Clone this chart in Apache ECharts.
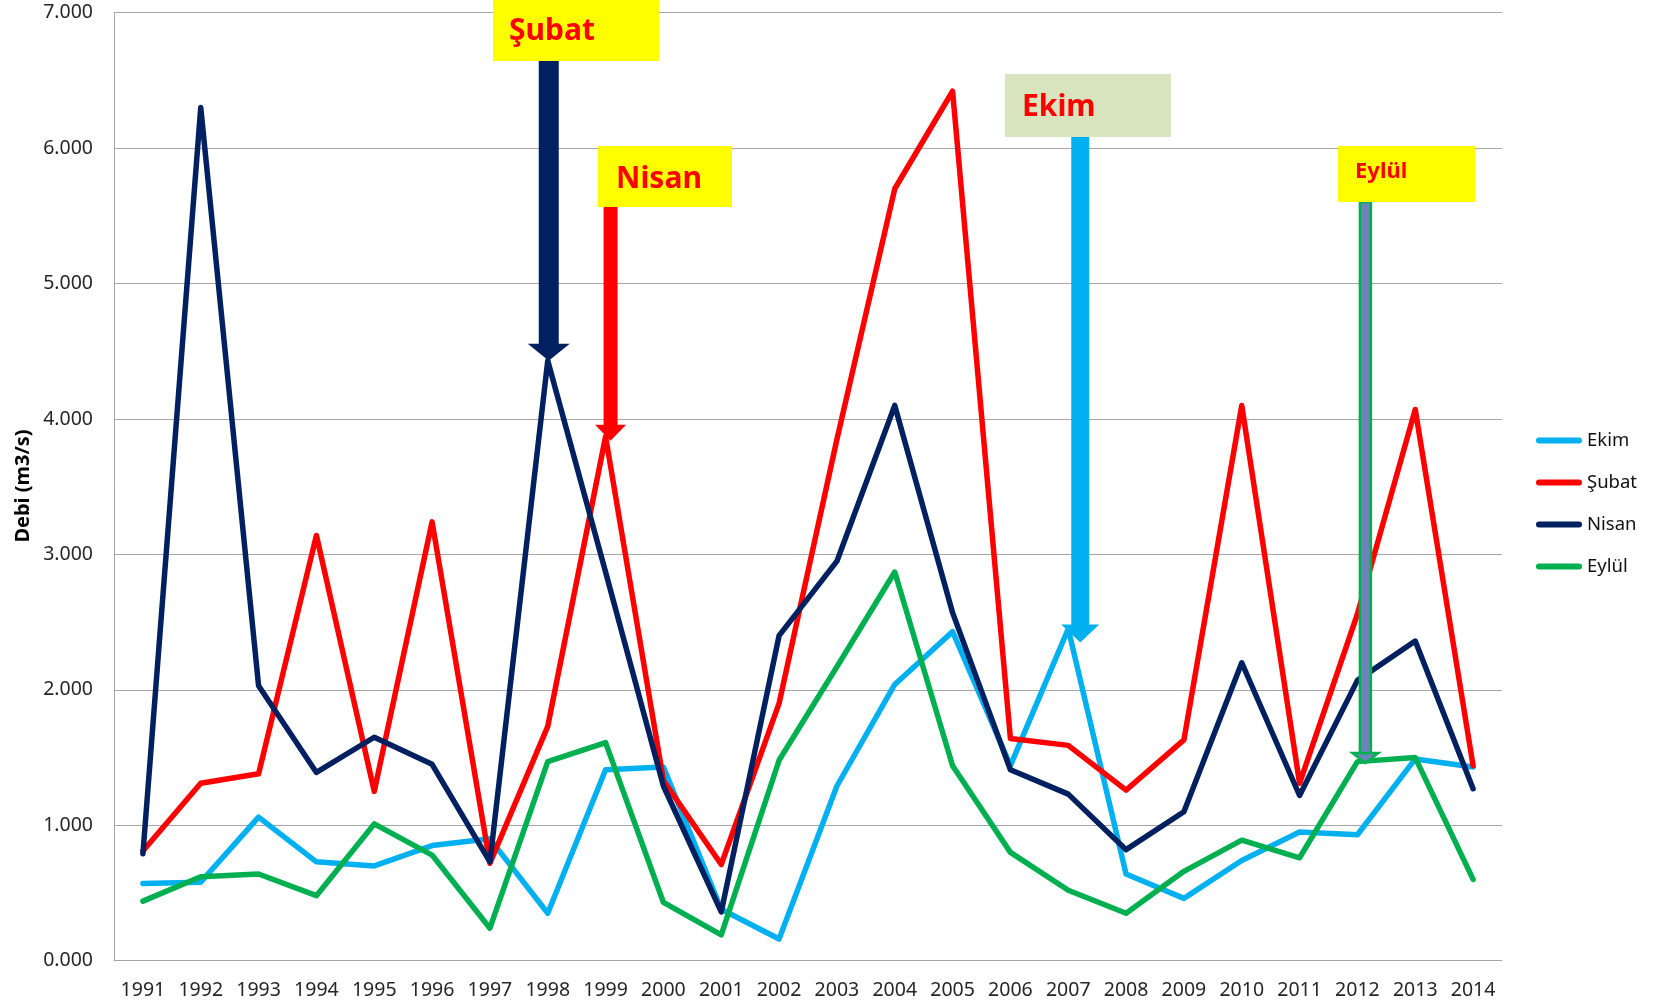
<!DOCTYPE html>
<html><head><meta charset="utf-8">
<script src="https://cdn.jsdelivr.net/npm/echarts@6/dist/echarts.min.js"></script>
<style>html,body{margin:0;padding:0;background:#fff}#c{width:1657px;height:1007px}</style>
</head><body><div id="c"></div>
<script>
// ---- data ----
const years = ['1991','1992','1993','1994','1995','1996','1997','1998','1999','2000','2001','2002','2003','2004','2005','2006','2007','2008','2009','2010','2011','2012','2013','2014'];
const ekim  = [570, 580, 1060, 730, 700, 850, 900, 350, 1410, 1430, 380, 160, 1290, 2040, 2430, 1440, 2450, 640, 460, 740, 950, 930, 1490, 1430];
const subat = [810, 1310, 1380, 3140, 1250, 3240, 720, 1730, 3870, 1330, 710, 1900, 3850, 5700, 6420, 1640, 1590, 1260, 1630, 4100, 1310, 2560, 4070, 1440];
const nisan = [790, 6300, 2030, 1390, 1650, 1450, 730, 4430, 2870, 1290, 360, 2400, 2950, 4100, 2570, 1410, 1230, 820, 1100, 2200, 1220, 2070, 2360, 1270];
const eylul = [440, 620, 640, 480, 1010, 780, 240, 1470, 1610, 430, 190, 1480, 2170, 2870, 1440, 800, 520, 350, 660, 890, 760, 1470, 1500, 600];
const seriesNames = ['Ekim', 'Şubat', 'Nisan', 'Eylül'];
const yTickLabels = ['0.000','1.000','2.000','3.000','4.000','5.000','6.000','7.000'];
const yAxisTitle = 'Debi (m3/s)';
const calloutTexts = ['Şubat', 'Nisan', 'Ekim', 'Eylül'];
const calloutYears = ['1998', '1999', '2007', '2012'];
const calloutTipValues = [4430, 3840, 2350, 1460];

// ---- styles / layout ----
const colors = ['#00B0F0', '#FF0000', '#002060', '#00B050'];
const FONT = 'Noto Sans';
const calloutLayout = [
  {box:[493,0,166,61],   fill:'#FFFF00', tx:509,  ty:31,  fs:30, arrow:'#002060', shaftW:20, headW:42, headH:17, dx:1},
  {box:[598,146,134,61], fill:'#FFFF00', tx:616,  ty:179, fs:30, arrow:'#FF0000', shaftW:14, headW:31, headH:16, dx:5},
  {box:[1005,74,166,63], fill:'#D7E4BD', tx:1022, ty:107, fs:30, arrow:'#00B0F0', shaftW:18, headW:38, headH:18, dx:12},
  {box:[1338,146,137,56],fill:'#FFFF00', tx:1355, ty:172, fs:22, arrow:'#6A86B8', stroke:'#00B050', shaftW:11, headW:26, headH:10, dx:8}
];

const chart = echarts.init(document.getElementById('c'), null, {renderer:'canvas'});
const seriesData = [ekim, subat, nisan, eylul];

chart.setOption({
  animation: false,
  backgroundColor: '#fff',
  textStyle: {fontFamily: FONT},
  grid: {left:114, right:155, top:12.7, bottom:46.3, containLabel:false},
  legend: {
    orient:'vertical', left:1531, top:426, itemWidth:46, itemHeight:6, itemGap:23,
    icon:'path://M3,0 L43,0 A3,3 0 0 1 43,6 L3,6 A3,3 0 0 1 3,0 Z',
    textStyle:{fontSize:18.5, color:'#111', fontFamily:FONT},
    data: seriesNames
  },
  xAxis: {
    type:'category', data: years, boundaryGap:true,
    axisLine:{lineStyle:{color:'#A6A6A6', width:1}},
    axisTick:{show:false},
    axisLabel:{fontSize:19.5, color:'#262626', margin:20, fontFamily:FONT, interval:0}
  },
  yAxis: {
    type:'value', min:0, max:7000, interval:1000,
    axisLine:{show:true, lineStyle:{color:'#A6A6A6', width:1}},
    axisTick:{show:false},
    splitLine:{lineStyle:{color:'#A6A6A6', width:1}},
    axisLabel:{fontSize:19.5, color:'#262626', margin:21, fontFamily:FONT,
      formatter: v => yTickLabels[Math.round(v/1000)]}
  },
  series: seriesNames.map((n, i) => ({
    name:n, type:'line', data: seriesData[i], symbol:'none', showSymbol:false,
    color: colors[i],
    lineStyle:{width:5.5, color:colors[i], cap:'round', join:'round'}
  }))
});

// ---- annotations positioned from data via the chart's scales ----
const els = [];
els.push({
  type:'text', x:23, y:486, rotation:Math.PI/2, z:100,
  style:{text:yAxisTitle, font:'bold 20px "'+FONT+'"', fill:'#000', textAlign:'center', textVerticalAlign:'middle'}
});
calloutTexts.forEach((t, i) => {
  const L = calloutLayout[i];
  const idx = years.indexOf(calloutYears[i]);
  const p = chart.convertToPixel({gridIndex:0}, [idx, calloutTipValues[i]]);
  const cx = p[0] + L.dx, tipY = p[1];
  const top = L.box[1] + L.box[3];
  const shaftBottom = tipY - L.headH;
  const stroke = L.stroke || null;
  els.push({
    type:'rect', z:100,
    shape:{x:cx - L.shaftW/2, y:top, width:L.shaftW, height:shaftBottom - top + 1},
    style:{fill:L.arrow, stroke:stroke, lineWidth: stroke ? 2.5 : 0}
  });
  els.push({
    type:'polygon', z:100,
    shape:{points:[[cx - L.headW/2, shaftBottom],[cx + L.headW/2, shaftBottom],[cx, tipY]]},
    style:{fill:L.arrow, stroke:stroke, lineWidth: stroke ? 2.5 : 0}
  });
  els.push({
    type:'rect', z:101,
    shape:{x:L.box[0], y:L.box[1], width:L.box[2], height:L.box[3]},
    style:{fill:L.fill}
  });
  els.push({
    type:'text', z:102, x:L.tx, y:L.ty,
    style:{text:t, font:'bold '+L.fs+'px "'+FONT+'"', fill:'#FF0000', textAlign:'left', textVerticalAlign:'middle'}
  });
});
chart.setOption({graphic:{elements:els}});
</script>
</body></html>
